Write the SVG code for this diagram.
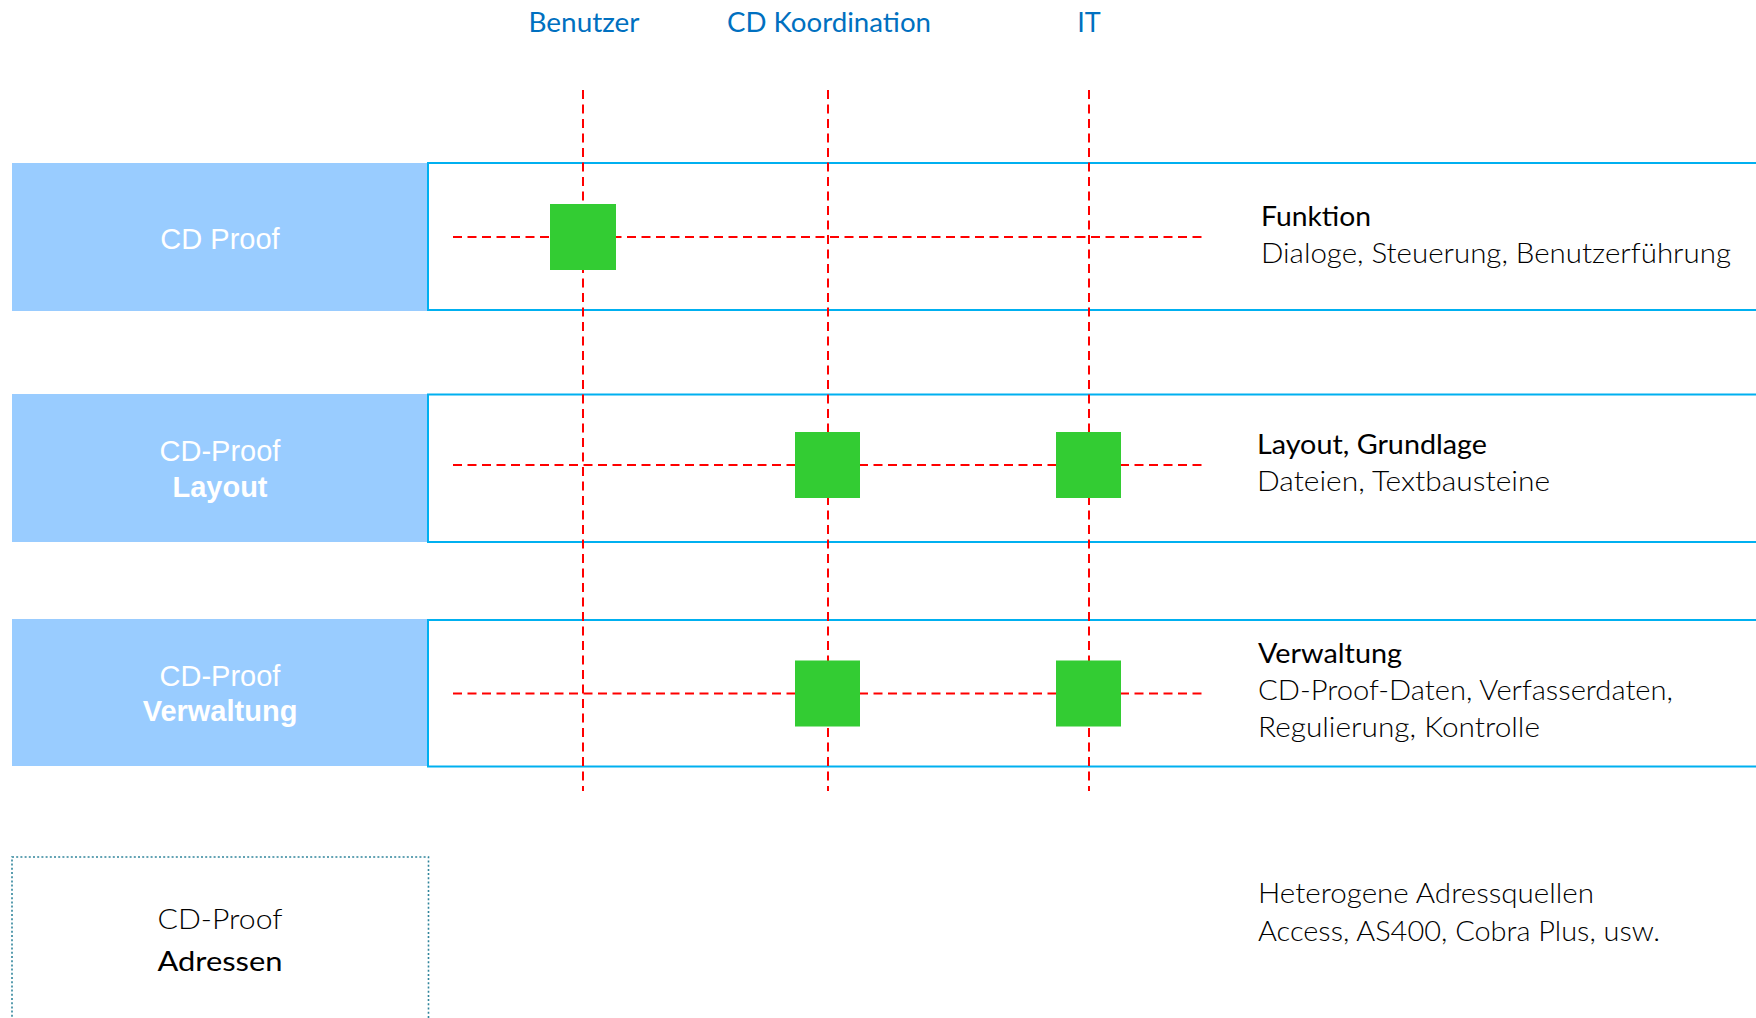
<svg xmlns="http://www.w3.org/2000/svg" width="1756" height="1018" viewBox="0 0 1756 1018">
<style>
.lane{fill:#99CCFF}
.box{fill:#FFFFFF;stroke:#00B0F0;stroke-width:2}
.dotbox{fill:#FFFFFF;stroke:#31859C;stroke-width:1.6;stroke-dasharray:2 2.2}
.dash{stroke:#FF0000;stroke-width:2;stroke-dasharray:9 5.5;fill:none}
.sq{fill:#33CC33}
.lt{font-family:"Liberation Sans",Arial,sans-serif;font-size:29px;fill:#FFFFFF;text-anchor:middle}
.lb{font-weight:bold}
.col{font-family:Lato,"Open Sans",sans-serif;font-size:27px;fill:#0070C0;text-anchor:middle}
.hd{font-family:Lato,"Open Sans",sans-serif;font-size:27px;fill:#000000;font-weight:400}
.bd{font-family:Lato,"Open Sans",sans-serif;font-size:27px;fill:#000000;font-weight:300}
</style>
<rect width="1756" height="1018" fill="#FFFFFF"/>

<g id="columns">
<text class="col" x="584" y="32" textLength="111" lengthAdjust="spacingAndGlyphs">Benutzer</text>
<text class="col" x="829" y="32" textLength="204" lengthAdjust="spacingAndGlyphs">CD Koordination</text>
<text class="col" x="1089" y="32">IT</text>
</g>

<g id="row-funktion">
<rect class="lane" x="12" y="163" width="416" height="148"/>
<rect class="box" x="428" y="163" width="1340" height="147"/>
<text class="lt" x="220" y="248.5">CD Proof</text>
<text class="hd" x="1261" y="226" textLength="110" lengthAdjust="spacingAndGlyphs">Funktion</text>
<text class="bd" x="1261" y="263" textLength="470" lengthAdjust="spacingAndGlyphs">Dialoge, Steuerung, Benutzerführung</text>
</g>

<g id="row-layout">
<rect class="lane" x="12" y="394" width="416" height="148"/>
<rect class="box" x="428" y="394.5" width="1340" height="147.5"/>
<text class="lt" x="220" y="461">CD-Proof</text>
<text class="lt lb" x="220" y="496.5">Layout</text>
<text class="hd" x="1257" y="454" textLength="230" lengthAdjust="spacingAndGlyphs">Layout, Grundlage</text>
<text class="bd" x="1257" y="491" textLength="293" lengthAdjust="spacingAndGlyphs">Dateien, Textbausteine</text>
</g>

<g id="row-verwaltung">
<rect class="lane" x="12" y="619" width="416" height="147"/>
<rect class="box" x="428" y="620" width="1340" height="146.5"/>
<text class="lt" x="220" y="686">CD-Proof</text>
<text class="lt lb" x="220" y="721">Verwaltung</text>
<text class="hd" x="1258" y="663" textLength="144" lengthAdjust="spacingAndGlyphs">Verwaltung</text>
<text class="bd" x="1258" y="700" textLength="415" lengthAdjust="spacingAndGlyphs">CD-Proof-Daten, Verfasserdaten,</text>
<text class="bd" x="1258" y="737" textLength="282" lengthAdjust="spacingAndGlyphs">Regulierung, Kontrolle</text>
</g>

<g id="row-adressen">
<rect class="dotbox" x="12" y="857" width="416.5" height="180"/>
<text class="bd" x="220" y="929" text-anchor="middle" textLength="125" lengthAdjust="spacingAndGlyphs">CD-Proof</text>
<text class="hd" x="220" y="971" text-anchor="middle" textLength="125" lengthAdjust="spacingAndGlyphs">Adressen</text>
<text class="bd" x="1258" y="903" textLength="336" lengthAdjust="spacingAndGlyphs">Heterogene Adressquellen</text>
<text class="bd" x="1258" y="940.5" textLength="402" lengthAdjust="spacingAndGlyphs">Access, AS400, Cobra Plus, usw.</text>
</g>

<g id="connectors">
<line class="dash" x1="583" y1="90" x2="583" y2="791"/>
<line class="dash" x1="828" y1="90" x2="828" y2="791"/>
<line class="dash" x1="1089" y1="90" x2="1089" y2="791"/>
<line class="dash" x1="453" y1="237" x2="1202" y2="237"/>
<line class="dash" x1="453" y1="465" x2="1202" y2="465"/>
<line class="dash" x1="453" y1="693.5" x2="1202" y2="693.5"/>
</g>

<g id="markers">
<rect class="sq" x="550" y="204" width="66" height="66"/>
<rect class="sq" x="795" y="432" width="65" height="66"/>
<rect class="sq" x="1056" y="432" width="65" height="66"/>
<rect class="sq" x="795" y="660.5" width="65" height="66"/>
<rect class="sq" x="1056" y="660.5" width="65" height="66"/>
</g>
</svg>
